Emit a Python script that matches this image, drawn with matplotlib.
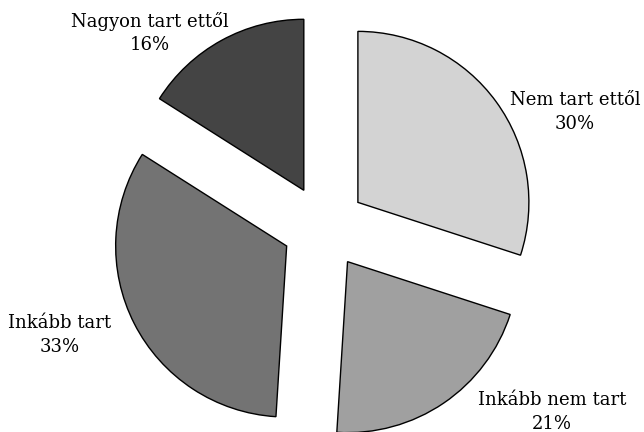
import matplotlib
matplotlib.use("Agg")
import matplotlib.pyplot as plt

categories = ["Nem tart ettől", "Inkább nem tart", "Inkább tart", "Nagyon tart ettől"]
values = [30, 21, 33, 16]
colors = ["#d3d3d3", "#a0a0a0", "#737373", "#444444"]
label_pos = [(1.468, 0.673), (1.333, -1.082), (-1.544, -0.632), (-1.018, 1.135)]

fig = plt.figure(figsize=(6.44, 4.32), dpi=100)
ax = fig.add_axes([0, 0, 1, 1])
ax.pie(values, explode=[0.245] * len(values), colors=colors, startangle=90,
       counterclock=False, radius=1,
       wedgeprops=dict(edgecolor="black", linewidth=1.0))
for cat, v, (x, y) in zip(categories, values, label_pos):
    ax.text(x, y, f"{cat}\n{v}%", ha="center", va="center",
            family="DejaVu Serif", fontsize=13, linespacing=1.4)
ax.set_xlim(-324 / 171, (644 - 324) / 171)
ax.set_ylim(-(432 - 227) / 171, 227 / 171)
ax.set_aspect("equal")
ax.axis("off")
fig.savefig("out.png", dpi=100)
